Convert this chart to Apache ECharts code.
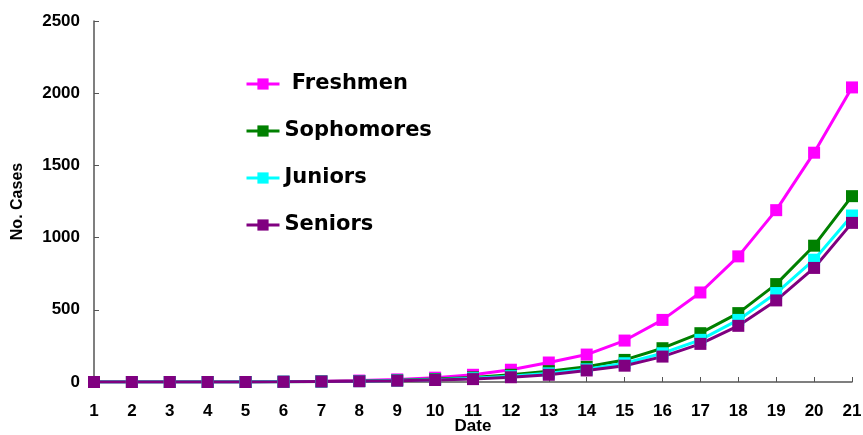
<!DOCTYPE html>
<html><head><meta charset="utf-8">
<script src="https://cdn.jsdelivr.net/npm/echarts@6/dist/echarts.min.js"></script>
<style>html,body{margin:0;padding:0;background:#fff}#c{width:863px;height:435px}</style>
</head><body><div id="c"></div>
<script>
const dates = ['1','2','3','4','5','6','7','8','9','10','11','12','13','14','15','16','17','18','19','20','21'];
const yTicks = [0, 500, 1000, 1500, 2000, 2500];
const freshmen   = [0,0,0,0,0,3,6,10,18,30,50,85,135,190,287,430,620,870,1190,1588,2040];
const sophomores = [0,0,0,0,0,2,4,7,12,20,32,50,75,105,153,234,338,477,678,944,1287];
const juniors    = [0,0,0,0,0,2,3,6,10,16,26,40,60,88,130,199,292,430,616,847,1153];
const seniors    = [0,0,0,0,0,1,3,5,9,14,20,33,50,80,113,176,264,389,565,790,1102];

const font = 'Arial, "Liberation Sans", sans-serif';
function mk(name, data, color){
  return {name, type:'line', data, symbol:'rect', symbolSize:12,
    lineStyle:{color, width:3}, itemStyle:{color}, animation:false};
}
const chart = echarts.init(document.getElementById('c'));
chart.setOption({
  animation:false,
  grid:{left:94, right:11, top:21, bottom:53, containLabel:false, outerBoundsMode:'none'},
  legend:{orient:'vertical', left:240, top:67, itemWidth:33, itemHeight:14, itemGap:23,
    lineStyle:{width:3},
    formatter: n => n === 'Freshmen' ? ' ' + n : n,
    textStyle:{fontFamily:'"DejaVu Sans", sans-serif', fontWeight:'bold', fontSize:21, lineHeight:24, color:'#000'},
    data:['Freshmen','Sophomores','Juniors','Seniors']},
  xAxis:{type:'category', data:dates, boundaryGap:false, name:'Date', nameLocation:'middle', nameGap:36,
    nameMoveOverlap:false,
    nameTextStyle:{fontFamily:font, fontWeight:'bold', fontSize:17, color:'#000'},
    axisLine:{lineStyle:{color:'#555', width:1.5}},
    axisTick:{inside:true, length:5, lineStyle:{color:'#555'}},
    axisLabel:{fontFamily:font, fontWeight:'bold', fontSize:17, color:'#000', margin:21}},
  yAxis:{type:'value', min:yTicks[0], max:yTicks[yTicks.length-1], interval:500, name:'No. Cases', nameLocation:'middle', nameGap:68,
    nameMoveOverlap:false,
    nameTextStyle:{fontFamily:font, fontWeight:'bold', fontSize:16, color:'#000'},
    splitLine:{show:false},
    axisLine:{show:true, lineStyle:{color:'#555', width:1.5}},
    axisTick:{show:true, inside:true, length:5, lineStyle:{color:'#555'}},
    axisLabel:{fontFamily:font, fontWeight:'bold', fontSize:17, color:'#000', margin:14, formatter: v => String(v)}},
  series:[mk('Freshmen',freshmen,'#FF00FF'), mk('Sophomores',sophomores,'#008000'),
          mk('Juniors',juniors,'#00FFFF'), mk('Seniors',seniors,'#800080')]
});
</script></body></html>
